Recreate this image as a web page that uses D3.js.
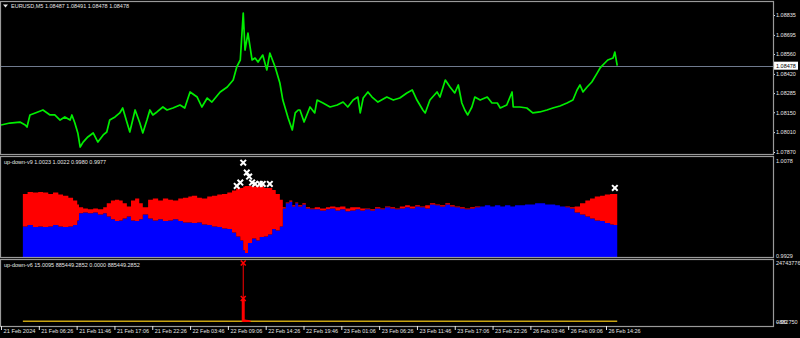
<!DOCTYPE html>
<html>
<head>
<meta charset="utf-8">
<script src="https://cdn.jsdelivr.net/npm/d3@7"></script>
<style>
  body { margin: 0; background: #000; }
  svg { display: block; font-family: "Liberation Sans", Arial, sans-serif; }
</style>
</head>
<body>
<div id="chart"></div>
<script>

// ---- data (bar index on M5) ----
var timeLabels = ["21 Feb 2024", "21 Feb 06:26", "21 Feb 11:46", "21 Feb 17:06", "21 Feb 22:26",
  "22 Feb 03:46", "22 Feb 09:06", "22 Feb 14:26", "22 Feb 19:46", "23 Feb 01:06", "23 Feb 06:26",
  "23 Feb 11:46", "23 Feb 17:06", "23 Feb 22:26", "26 Feb 03:46", "26 Feb 09:06", "26 Feb 14:26"];
var timeTicks = [0, 64, 128, 192, 256, 320, 384, 448, 512, 576, 640, 704, 768, 832, 896, 960, 1024];

var priceTicks = [1.08835, 1.08695, 1.08560, 1.08420, 1.08285, 1.08150, 1.08010, 1.07870];
var lastPrice = 1.08478;

var priceBar = [0, 15, 32, 41, 44, 49, 58, 71, 83, 91, 100, 108, 117, 120, 125, 130, 134, 139, 147, 156,
  164, 173, 179, 184, 193, 201, 206, 213, 218, 227, 235, 240, 247, 252, 257, 264, 274, 281, 291, 303,
  311, 320, 332, 340, 349, 357, 371, 383, 393, 399, 405, 410, 413, 418, 425, 430, 435, 443, 450, 455,
  464, 472, 477, 486, 493, 498, 503, 506, 513, 523, 531, 535, 545, 557, 569, 579, 587, 596, 604, 608,
  613, 621, 628, 638, 653, 664, 675, 687, 696, 704, 714, 718, 726, 738, 743, 752, 760, 768, 774, 780,
  785, 790, 797, 802, 811, 823, 831, 840, 845, 856, 865, 867, 878, 890, 900, 912, 924, 934, 946, 958,
  968, 975, 980, 985, 992, 1000, 1009, 1014, 1022, 1027, 1036, 1039, 1043];
var priceVal = [1.08060, 1.08074, 1.08081, 1.08060, 1.08046, 1.08131, 1.08145, 1.08166, 1.08131, 1.08131,
  1.08095, 1.08117, 1.08095, 1.08131, 1.08074, 1.08004, 1.07905, 1.07940, 1.07976, 1.08004,
  1.07940, 1.07990, 1.08011, 1.08095, 1.08117, 1.08145, 1.08180, 1.08081, 1.08011, 1.08166,
  1.08074, 1.08004, 1.08095, 1.08166, 1.08131, 1.08152, 1.08187, 1.08166, 1.08180, 1.08201,
  1.08180, 1.08293, 1.08257, 1.08187, 1.08250, 1.08222, 1.08293, 1.08328, 1.08377, 1.08469,
  1.08518, 1.08849, 1.08588, 1.08708, 1.08518, 1.08532, 1.08504, 1.08553, 1.08448, 1.08567,
  1.08469, 1.08356, 1.08236, 1.08109, 1.08025, 1.08145, 1.08166, 1.08166, 1.08081, 1.08187,
  1.08145, 1.08236, 1.08215, 1.08187, 1.08201, 1.08222, 1.08187, 1.08236, 1.08257, 1.08145,
  1.08250, 1.08293, 1.08257, 1.08222, 1.08257, 1.08236, 1.08250, 1.08286, 1.08307, 1.08236,
  1.08166, 1.08145, 1.08236, 1.08293, 1.08257, 1.08377, 1.08328, 1.08286, 1.08342, 1.08215,
  1.08166, 1.08131, 1.08187, 1.08257, 1.08236, 1.08257, 1.08215, 1.08215, 1.08180, 1.08201,
  1.08293, 1.08187, 1.08187, 1.08180, 1.08145, 1.08152, 1.08166, 1.08180, 1.08194, 1.08215,
  1.08236, 1.08307, 1.08342, 1.08293, 1.08328, 1.08363, 1.08426, 1.08462, 1.08497, 1.08518,
  1.08532, 1.08574, 1.08478];

// up-down-v9 : blue level and red level per bar
var v9Bar = [37, 45, 54, 63, 71, 80, 88, 97, 105, 114, 122, 129, 132, 139, 147, 156, 164, 173, 179, 186,
  193, 200, 206, 213, 220, 227, 234, 240, 249, 257, 266, 274, 283, 291, 300, 308, 317, 323, 332, 340,
  349, 357, 366, 374, 383, 391, 398, 405, 410, 413, 418, 425, 432, 438, 445, 452, 459, 465, 472, 477,
  482, 488, 493, 498, 503, 510, 516, 523, 531, 540, 550, 557, 566, 574, 583, 591, 600, 608, 616, 625,
  633, 642, 650, 659, 667, 675, 684, 692, 701, 709, 718, 726, 735, 743, 752, 760, 768, 777, 785, 794,
  802, 811, 819, 828, 836, 845, 853, 862, 870, 878, 887, 895, 904, 912, 921, 929, 938, 946, 955, 963,
  971, 980, 989, 997, 1005, 1014, 1022, 1031, 1037, 1043];
var v9Blue = [0.9975, 0.9977, 0.9974, 0.9975, 0.9974, 0.9975, 0.9977, 0.9975, 0.9974, 0.9975,
  0.9977, 0.9984, 0.9995, 0.9996, 0.9995, 0.9996, 0.9993, 0.9995, 0.9990, 0.9986,
  0.9983, 0.9984, 0.9987, 0.9990, 0.9984, 0.9983, 0.9986, 0.9993, 0.9987, 0.9984,
  0.9986, 0.9983, 0.9984, 0.9986, 0.9983, 0.9981, 0.9981, 0.9980, 0.9981, 0.9978,
  0.9977, 0.9975, 0.9974, 0.9972, 0.9971, 0.9966, 0.9960, 0.9954, 0.9939, 0.9935,
  0.9950, 0.9957, 0.9954, 0.9959, 0.9960, 0.9963, 0.9971, 0.9969, 0.9975, 1.0002,
  1.0010, 1.0012, 1.0005, 1.0010, 1.0005, 1.0008, 1.0002, 1.0001, 1.0001, 0.9999,
  1.0001, 1.0002, 0.9999, 1.0001, 0.9998, 0.9999, 1.0001, 0.9999, 1.0001, 0.9999,
  1.0002, 1.0001, 1.0004, 1.0002, 1.0001, 1.0002, 1.0004, 1.0002, 1.0005, 1.0004,
  1.0002, 1.0008, 1.0007, 1.0005, 1.0008, 1.0005, 1.0004, 1.0002, 1.0001, 1.0002,
  1.0004, 1.0005, 1.0007, 1.0005, 1.0007, 1.0005, 1.0007, 1.0005, 1.0007, 1.0007,
  1.0008, 1.0008, 1.0010, 1.0010, 1.0008, 1.0008, 1.0007, 1.0005, 1.0004, 1.0002,
  0.9996, 0.9993, 0.9990, 0.9987, 0.9984, 0.9983, 0.9980, 0.9978, 0.9977, 0.9977];
var v9Red = [1.0024, 1.0027, 1.0026, 1.0027, 1.0026, 1.0024, 1.0026, 1.0023, 1.0021, 1.0018,
  1.0014, 1.0008, 1.0004, 1.0002, 1.0001, 1.0002, 1.0001, 1.0004, 1.0010, 1.0014,
  1.0015, 1.0014, 1.0010, 1.0005, 1.0014, 1.0017, 1.0010, 1.0004, 1.0015, 1.0017,
  1.0014, 1.0017, 1.0015, 1.0014, 1.0017, 1.0018, 1.0020, 1.0021, 1.0018, 1.0017,
  1.0020, 1.0021, 1.0023, 1.0024, 1.0026, 1.0029, 1.0032, 1.0033, 1.0035, 1.0036,
  1.0036, 1.0035, 1.0035, 1.0035, 1.0033, 1.0033, 1.0030, 1.0024, 1.0015, 1.0004,
  1.0011, 1.0014, 1.0007, 1.0011, 1.0007, 1.0010, 1.0004, 1.0002, 1.0004, 1.0002,
  1.0004, 1.0005, 1.0004, 1.0005, 1.0002, 1.0004, 1.0004, 1.0002, 1.0002, 1.0001,
  1.0004, 1.0002, 1.0005, 1.0004, 1.0002, 1.0005, 1.0007, 1.0005, 1.0007, 1.0005,
  1.0007, 1.0010, 1.0008, 1.0007, 1.0010, 1.0007, 1.0005, 1.0004, 1.0002, 1.0004,
  1.0005, 1.0005, 1.0007, 1.0005, 1.0007, 1.0005, 1.0007, 1.0005, 1.0007, 1.0007,
  1.0008, 1.0008, 1.0010, 1.0010, 1.0008, 1.0008, 1.0007, 1.0005, 1.0005, 1.0004,
  1.0005, 1.0010, 1.0014, 1.0017, 1.0020, 1.0021, 1.0023, 1.0024, 1.0024, 1.0023];
var v9MarkBar = [410, 416, 420, 405, 399, 425, 430, 438, 443, 455, 1039];
var v9MarkVal = [1.0071, 1.0056, 1.0050, 1.0041, 1.0036, 1.0041, 1.0039, 1.0039, 1.0039, 1.0039, 1.0033];

// up-down-v6
var v6Bar = [410, 412, 414, 416, 418, 420];
var v6Val = [98000000, 9000000, 8000000, 8000000, 7000000, 5000000];
var v6SpikeBar = 410, v6SpikeVal = 247437760;
var v6LineStart = 37, v6LineEnd = 1043;

// ---- layout ----
var width = 800, height = 338, plotR = 773;
var pane1 = {top: 1, bottom: 154},
    pane2 = {top: 156, bottom: 257},
    pane3 = {top: 259, bottom: 326};
var fs = "5.5px";

var svg = d3.select("#chart").append("svg")
    .attr("width", width)
    .attr("height", height)
    .style("background", "#000");

var x = d3.scaleLinear().domain([0, 1024]).range([1, 606]);
var y1 = d3.scaleLinear().domain([1.07870, 1.08835]).range([152, 15]);
var y2 = d3.scaleLinear().domain([0.9929, 1.0078]).range([257, 158]);
var y3 = d3.scaleLinear().domain([-882750, 247437760]).range([322, 263]);

var textCol = "#e6e6e6", borderCol = "#9a9a9a";

// clip paths for panes
[pane1, pane2, pane3].forEach(function(p, i) {
  svg.append("clipPath").attr("id", "clip" + i)
    .append("rect").attr("x", 1).attr("y", p.top + 1)
    .attr("width", plotR - 1).attr("height", p.bottom - p.top - 1);
});

// ---- pane 1 : price ----
var g1 = svg.append("g").attr("clip-path", "url(#clip0)");

g1.append("line")
    .attr("x1", 0).attr("x2", plotR)
    .attr("y1", Math.round(y1(lastPrice)) + 0.5).attr("y2", Math.round(y1(lastPrice)) + 0.5)
    .attr("stroke", "#6f7a8e");

g1.append("path")
    .datum(d3.zip(priceBar, priceVal))
    .attr("fill", "none")
    .attr("stroke", "#00ee00")
    .attr("stroke-width", 1.7)
    .attr("stroke-linejoin", "round")
    .attr("d", d3.line().x(function(d) { return x(d[0]); }).y(function(d) { return y1(d[1]); }));

svg.append("g")
    .attr("class", "y-axis")
    .attr("transform", "translate(" + plotR + ",0)")
    .call(d3.axisRight(y1).tickValues(priceTicks).tickFormat(d3.format(".5f")).tickSize(2).tickPadding(1))
    .call(function(g) { g.select(".domain").remove(); })
    .call(function(g) {
      g.selectAll("line").attr("stroke", textCol);
      g.selectAll("text").attr("fill", textCol).attr("font-size", fs).attr("font-family", "Liberation Sans, Arial");
    });

svg.append("rect")
    .attr("x", plotR + 1).attr("y", y1(lastPrice) - 4)
    .attr("width", 24).attr("height", 8)
    .attr("fill", "#fff");
svg.append("text")
    .attr("x", plotR + 3).attr("y", y1(lastPrice) + 2)
    .attr("font-size", fs).attr("fill", "#000")
    .text(d3.format(".5f")(lastPrice));

// ---- pane 2 : up-down-v9 ----
var g2 = svg.append("g").attr("clip-path", "url(#clip1)");
var v9 = v9Bar.map(function(b, i) { return {bar: b, blue: v9Blue[i], red: v9Red[i]}; });

g2.append("path")
    .datum(v9)
    .attr("fill", "#0000ff")
    .attr("d", d3.area().curve(d3.curveStepAfter)
      .x(function(d) { return x(d.bar); })
      .y0(pane2.bottom)
      .y1(function(d) { return y2(d.blue); }));

g2.append("path")
    .datum(v9)
    .attr("fill", "#ff0000")
    .attr("d", d3.area().curve(d3.curveStepAfter)
      .x(function(d) { return x(d.bar); })
      .y0(function(d) { return y2(d.blue); })
      .y1(function(d) { return y2(d.red); }));

g2.selectAll(".mark")
    .data(d3.zip(v9MarkBar, v9MarkVal))
    .enter().append("path")
      .attr("class", "mark")
      .attr("transform", function(d) { return "translate(" + x(d[0]) + "," + y2(d[1]) + ")"; })
      .attr("d", d3.symbol().type(d3.symbolTimes).size(22))
      .attr("fill", "none")
      .attr("stroke", "#fff")
      .attr("stroke-width", 2);

svg.append("g")
    .attr("transform", "translate(" + plotR + ",0)")
    .call(d3.axisRight(y2).tickValues([1.0078, 0.9929]).tickFormat(d3.format(".4f")).tickSize(0).tickPadding(3))
    .call(function(g) { g.select(".domain").remove(); })
    .call(function(g) {
      g.selectAll("text").attr("fill", textCol).attr("font-size", fs).attr("font-family", "Liberation Sans, Arial")
        .attr("dy", function(d) { return d > 1 ? "0.75em" : "0em"; });
    });

// ---- pane 3 : up-down-v6 ----
var g3 = svg.append("g").attr("clip-path", "url(#clip2)");

g3.append("line")
    .attr("x1", x(v6LineStart)).attr("x2", x(v6LineEnd))
    .attr("y1", y3(0) - 0.5).attr("y2", y3(0) - 0.5)
    .attr("stroke", "#c8a412").attr("stroke-width", 1.5);

g3.append("line")
    .attr("x1", x(v6SpikeBar)).attr("x2", x(v6SpikeBar))
    .attr("y1", y3(0)).attr("y2", y3(v6SpikeVal))
    .attr("stroke", "#ff0000").attr("stroke-width", 1);

g3.selectAll(".bar")
    .data(d3.zip(v6Bar, v6Val))
    .enter().append("line")
      .attr("class", "bar")
      .attr("x1", function(d) { return x(d[0]); })
      .attr("x2", function(d) { return x(d[0]); })
      .attr("y1", y3(0))
      .attr("y2", function(d) { return y3(d[1]); })
      .attr("stroke", "#ff0000")
      .attr("stroke-width", 3);

g3.selectAll(".mark")
    .data([[v6SpikeBar, v6SpikeVal], [v6Bar[0], v6Val[0]]])
    .enter().append("path")
      .attr("class", "mark")
      .attr("transform", function(d) { return "translate(" + x(d[0]) + "," + y3(d[1]) + ")"; })
      .attr("d", d3.symbol().type(d3.symbolTimes).size(18))
      .attr("fill", "none")
      .attr("stroke", "#ff0000")
      .attr("stroke-width", 1.5);

svg.append("g")
    .attr("transform", "translate(" + plotR + ",0)")
    .call(d3.axisRight(y3).tickValues([v6SpikeVal, 0, -882750])
      .tickFormat(function(d) { return d === 0 ? "0.00" : d3.format("d")(d); })
      .tickSize(0).tickPadding(3))
    .call(function(g) { g.select(".domain").remove(); })
    .call(function(g) {
      g.selectAll("text").attr("fill", textCol).attr("font-size", fs).attr("font-family", "Liberation Sans, Arial");
    });

// ---- pane borders ----
[pane1, pane2, pane3].forEach(function(p) {
  svg.append("rect")
    .attr("x", 0.5).attr("y", p.top + 0.5)
    .attr("width", plotR).attr("height", p.bottom - p.top)
    .attr("fill", "none")
    .attr("stroke", borderCol)
    .attr("stroke-width", 1.2);
});

// ---- time axis ----
svg.append("g")
    .attr("class", "x-axis")
    .attr("transform", "translate(0," + pane3.bottom + ")")
    .call(d3.axisBottom(x).tickValues(timeTicks)
      .tickFormat(function(d, i) { return timeLabels[i]; })
      .tickSize(4).tickPadding(0))
    .call(function(g) { g.select(".domain").remove(); })
    .call(function(g) {
      g.selectAll("line").attr("stroke", textCol);
      g.selectAll("text").attr("fill", textCol).attr("font-size", fs)
        .attr("font-family", "Liberation Sans, Arial")
        .attr("text-anchor", "start").attr("x", 2).attr("dy", "0.5em")
        .attr("textLength", 32).attr("lengthAdjust", "spacingAndGlyphs");
    });

// ---- pane titles ----
svg.append("path")
    .attr("d", "M3,4.5 L8,4.5 L5.5,7.5 Z")
    .attr("fill", textCol);
svg.append("text")
    .attr("x", 11).attr("y", 8)
    .attr("font-size", fs).attr("fill", textCol)
    .text("EURUSD,M5  1.08487 1.08491 1.08478 1.08478");
svg.append("text")
    .attr("x", 4).attr("y", 164)
    .attr("font-size", fs).attr("fill", textCol)
    .text("up-down-v9 1.0023 1.0022 0.9980 0.9977");
svg.append("text")
    .attr("x", 4).attr("y", 267)
    .attr("font-size", fs).attr("fill", textCol)
    .text("up-down-v6 15.0095 885449.2852 0.0000 885449.2852");

</script>
</body>
</html>
